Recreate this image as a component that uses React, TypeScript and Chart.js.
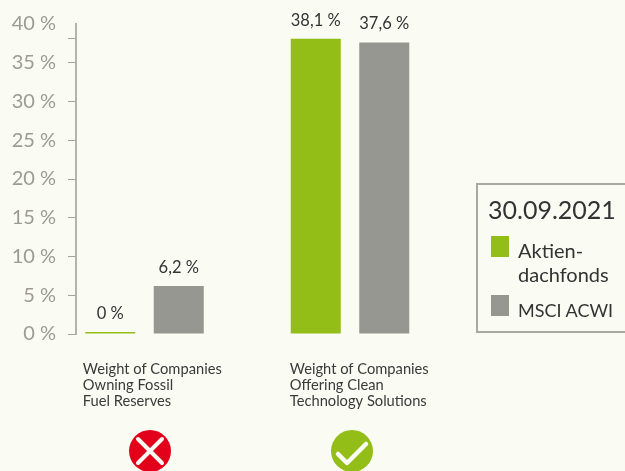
import React, { useEffect, useRef } from "react";
import { Chart, registerables } from "chart.js";

Chart.register(...registerables);

const groupPositions = [0, 1];
const groupLabels = [
  ["Weight of Companies", "Owning Fossil", "Fuel Reserves"],
  ["Weight of Companies", "Offering Clean", "Technology Solutions"],
];
const labelPositions = [-0.3, 0.707];
const fundValues = [0, 38.1];
const indexValues = [6.2, 37.6];
const fundLabels = ["0 %", "38,1 %"];
const indexLabels = ["6,2 %", "37,6 %"];
const yTickValues = [0, 5, 10, 15, 20, 25, 30, 35, 38.1, 40];
const legendTitle = "30.09.2021";
const fundName = ["Aktien-", "dachfonds"];
const indexName = "MSCI ACWI";

const FONT = "Lato";
const BG = "#fafbf3";
const GREEN = "#93bd17";
const GREY = "#969790";

const valueLabelPlugin = {
  id: "valueLabels",
  afterDatasetsDraw(chart: any) {
    const { ctx } = chart;
    ctx.save();
    ctx.font = `16.5px ${FONT}`;
    ctx.fillStyle = "#333333";
    ctx.textAlign = "center";
    ctx.textBaseline = "middle";
    chart.data.datasets.forEach((ds: any, i: number) => {
      chart.getDatasetMeta(i).data.forEach((bar: any, j: number) => {
        ctx.fillText(ds.valueLabels[j], bar.x, bar.y - 18.5);
      });
    });
    ctx.restore();
  },
};

export default function App() {
  const ref = useRef<HTMLCanvasElement>(null);
  useEffect(() => {
    const chart = new Chart(ref.current!, {
      type: "bar",
      plugins: [valueLabelPlugin],
      data: {
        datasets: [
          {
            label: fundName.join(""),
            data: groupPositions.map((x, i) => ({ x, y: fundValues[i] })),
            backgroundColor: GREEN,
            valueLabels: fundLabels,
          },
          {
            label: indexName,
            data: groupPositions.map((x, i) => ({ x, y: indexValues[i] })),
            backgroundColor: GREY,
            valueLabels: indexLabels,
          },
        ] as any,
      },
      options: {
        responsive: false,
        animation: false,
        layout: { padding: { top: 10, right: 206.5, left: 0, bottom: 0 } },
        plugins: { legend: { display: false }, tooltip: { enabled: false } },
        datasets: { bar: { categoryPercentage: 0.6667, barPercentage: 0.73, minBarLength: 2, borderWidth: 0 } },
        scales: {
          x: {
            type: "linear",
            offset: false,
            min: -1 / 3,
            max: 4 / 3,
            grid: { display: false, offset: false },
            border: { display: false },
            afterBuildTicks(scale: any) {
              scale.ticks = labelPositions.map((value) => ({ value }));
            },
            afterFit(scale: any) {
              scale.height = 137;
            },
            ticks: {
              align: "start",
              autoSkip: false,
              maxRotation: 0,
              padding: 19,
              color: "#3a3a3a",
              font: { family: FONT, size: 14.7, lineHeight: 1.09 },
              callback: (_v: any, i: number) => groupLabels[i],
            },
          },
          y: {
            min: 0,
            max: 40,
            grid: {
              drawOnChartArea: false,
              drawTicks: true,
              tickLength: 8,
              tickWidth: 1,
              tickColor: (c: any) => (c.tick && c.tick.value === 40 ? "rgba(0,0,0,0)" : "#a3a39b"),
            },
            border: { display: true, color: "#b3b3ab", width: 2 },
            afterBuildTicks(scale: any) {
              scale.ticks = yTickValues.map((value) => ({ value }));
            },
            afterFit(scale: any) {
              scale.width = 76;
            },
            ticks: {
              autoSkip: false,
              padding: 12,
              color: "#9b9b93",
              font: { family: FONT, size: 20 },
              callback: (v: any) => (v === 38.1 ? "" : `${v} %`),
            },
          },
        },
      } as any,
    });
    return () => chart.destroy();
  }, []);

  const text = (style: React.CSSProperties) => ({
    position: "absolute" as const,
    fontFamily: FONT,
    color: "#333333",
    whiteSpace: "nowrap" as const,
    lineHeight: "24px",
    ...style,
  });

  return (
    <div style={{ position: "fixed", left: 0, top: 0, width: 625, height: 471, background: BG, overflow: "hidden" }}>
      <canvas ref={ref} width={625} height={471} style={{ display: "block", position: "absolute", left: 0, top: 0 }} />
      <div style={{ position: "absolute", left: 476, top: 183, width: 170, height: 146, border: "2px solid #a9a9a2" }} />
      <div style={text({ left: 488, top: 194, fontSize: 25, lineHeight: "30px" })}>{legendTitle}</div>
      <div style={{ position: "absolute", left: 491, top: 236, width: 18, height: 21, background: GREEN }} />
      <div style={text({ left: 518, top: 238, fontSize: 20 })}>{fundName[0]}</div>
      <div style={text({ left: 518, top: 262, fontSize: 20 })}>{fundName[1]}</div>
      <div style={{ position: "absolute", left: 491, top: 295, width: 18, height: 21, background: GREY }} />
      <div style={text({ left: 518, top: 298, fontSize: 18 })}>{indexName}</div>
      <svg width={625} height={471} style={{ position: "absolute", left: 0, top: 0 }}>
        <circle cx={150} cy={451} r={21} fill="#e2001a" />
        <path d="M138 439 L162 463 M162 439 L138 463" stroke="#fafbf3" strokeWidth={4} strokeLinecap="round" fill="none" />
        <circle cx={352} cy={451} r={21} fill={GREEN} />
        <path d="M338 454 L347 463 L366 444" stroke="#fafbf3" strokeWidth={4.5} strokeLinecap="round" strokeLinejoin="round" fill="none" />
      </svg>
    </div>
  );
}
